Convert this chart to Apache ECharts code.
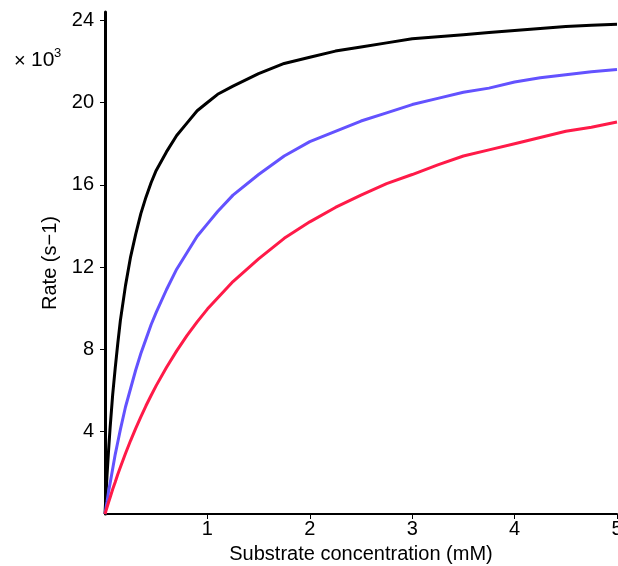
<!DOCTYPE html>
<html>
<head>
<meta charset="utf-8">
<script src="https://cdn.jsdelivr.net/npm/echarts@6/dist/echarts.min.js"></script>
<style>
  html, body { margin: 0; padding: 0; background: #fff; }
  #main { width: 618px; height: 566px; }
</style>
</head>
<body>
<div id="main"></div>
<script>
// substrate concentration (mM)
var conc = [0, 0.01, 0.02, 0.035, 0.05, 0.075, 0.1, 0.125, 0.15, 0.2, 0.25, 0.3, 0.35, 0.4, 0.45, 0.5, 0.6, 0.7,
            0.8, 0.9, 1, 1.1, 1.25, 1.5, 1.75, 2, 2.25, 2.5, 2.75, 3, 3.25, 3.5, 3.75, 4, 4.25, 4.5, 4.75, 5];
// rates, x10^3 s-1
var rateBlack = [0, 1.0, 1.9, 3.1, 4.2, 5.8, 7.1, 8.3, 9.4, 11.1, 12.5, 13.6, 14.6, 15.4, 16.1, 16.7, 17.6, 18.4,
                 19.0, 19.6, 20.0, 20.4, 20.8, 21.4, 21.9, 22.2, 22.5, 22.7, 22.9, 23.1, 23.2, 23.3, 23.4, 23.5,
                 23.6, 23.7, 23.75, 23.8];
var rateBlue = [0, 0.3, 0.6, 1.1, 1.5, 2.2, 2.9, 3.5, 4.1, 5.2, 6.1, 7.0, 7.8, 8.5, 9.2, 9.8, 10.9, 11.9,
                12.7, 13.5, 14.1, 14.7, 15.5, 16.5, 17.4, 18.1, 18.6, 19.1, 19.5, 19.9, 20.2, 20.5, 20.7, 21.0,
                21.2, 21.35, 21.5, 21.6];
var rateRed = [0, 0.17, 0.33, 0.57, 0.8, 1.2, 1.56, 1.93, 2.27, 2.94, 3.57, 4.16, 4.72, 5.26, 5.76, 6.24, 7.12, 7.93,
               8.67, 9.34, 9.96, 10.5, 11.3, 12.4, 13.4, 14.2, 14.9, 15.5, 16.06, 16.5, 16.97, 17.4, 17.7, 18.0,
               18.3, 18.6, 18.8, 19.05];
var xTicks = [1, 2, 3, 4, 5];
var yTicks = [4, 8, 12, 16, 20, 24];

function pairs(xs, ys) {
    var out = [];
    for (var i = 0; i < xs.length; i++) out.push([xs[i], ys[i]]);
    return out;
}

function curve(ys, col) {
    return {
        type: 'line',
        data: pairs(conc, ys),
        showSymbol: false,
        smooth: false,
        lineStyle: { color: col, width: 3 },
        animation: false
    };
}

var chart = echarts.init(document.getElementById('main'));
var font = 'Liberation Sans';

chart.setOption({
    backgroundColor: '#fff',
    animation: false,
    // the "x 10^3" multiplier at top left
    title: [
        { text: '\u00d7', left: 9, top: 46, textStyle: { color: '#000', fontSize: 20, fontWeight: 'normal', fontFamily: font } },
        { text: '10', left: 26, top: 45, textStyle: { color: '#000', fontSize: 21, fontWeight: 'normal', fontFamily: font } },
        { text: '3', left: 49, top: 42, textStyle: { color: '#000', fontSize: 13, fontWeight: 'normal', fontFamily: font } }
    ],
    grid: { left: 105, right: 1, top: 12, bottom: 52, outerBoundsMode: 'none' },
    xAxis: {
        type: 'value',
        min: 0,
        max: 5,
        name: 'Substrate concentration (mM)',
        nameLocation: 'middle',
        nameGap: 30,
        nameTextStyle: { color: '#000', fontSize: 20, fontFamily: font },
        splitLine: { show: false },
        axisLine: { show: true, onZero: false, lineStyle: { color: '#000', width: 2 } },
        axisTick: { show: true, customValues: xTicks, length: 5, lineStyle: { color: '#000', width: 1 } },
        axisLabel: { customValues: xTicks, color: '#000', fontSize: 20, fontFamily: font, margin: 5 }
    },
    yAxis: {
        type: 'value',
        min: 0,
        max: 24.4,
        name: 'Rate (s\u22121)',
        nameLocation: 'middle',
        nameGap: 35,
        nameRotate: 90,
        nameTextStyle: { color: '#000', fontSize: 20, fontFamily: font },
        splitLine: { show: false },
        axisLine: { show: true, onZero: false, lineStyle: { color: '#000', width: 3 } },
        axisTick: { show: true, customValues: yTicks, length: 5, lineStyle: { color: '#000', width: 1 } },
        axisLabel: { customValues: yTicks, color: '#000', fontSize: 20, fontFamily: font, margin: 11 }
    },
    series: [
        curve(rateBlack, '#000000'),
        curve(rateBlue, '#6352ff'),
        curve(rateRed, '#ff1a48')
    ]
});
</script>
</body>
</html>
